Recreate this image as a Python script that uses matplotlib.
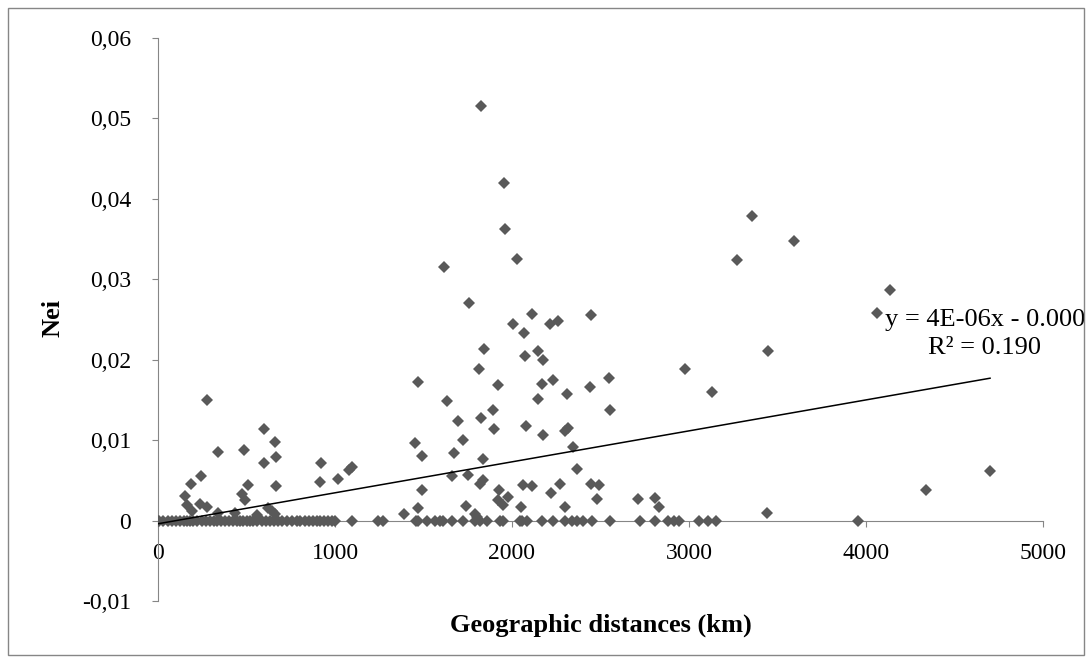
import numpy as np
import matplotlib
matplotlib.use('Agg')
from matplotlib import pyplot as plt
from matplotlib.patches import Rectangle

plt.rcParams['font.family'] = ['Liberation Serif', 'DejaVu Serif']

# points above zero (km, Nei)
dist_pos = [274, 601, 661, 667, 341, 486, 601, 919, 1098, 1079, 241, 188, 510, 667, 915, 1015,
            153, 473, 492, 162, 190, 237, 275, 341, 435, 557, 623, 642, 661,
            1392, 1471, 1490, 1452, 1490, 1467, 1635, 1672,
            1923, 2171, 2230, 2441, 2550, 2149, 2309, 3131, 1894, 2552, 1697, 1823, 1898,
            2079, 2177, 2299, 2318, 1725, 1838, 2345, 2365, 1659, 1753, 1834, 1819, 2064,
            2111, 2271, 2446, 2491, 1928, 2221, 1923, 1979, 1951, 2483, 2712, 2808, 2832,
            1740, 2049, 2302, 1791, 1804,
            1823, 1955, 1960, 2026, 1618, 1759, 2115, 2008, 2068, 2215, 2262, 2446, 1844,
            1814, 2073, 2149, 2173,
            3354, 3595, 3269, 4136, 4064, 3448, 2977, 4701, 4337, 3439]
nei_pos = [0.0150, 0.0114, 0.0098, 0.0079, 0.0085, 0.0088, 0.0071, 0.0072, 0.0066, 0.0063, 0.0055,
           0.0045, 0.0044, 0.0043, 0.0048, 0.0052,
           0.0031, 0.0033, 0.0026, 0.0019, 0.0012, 0.0020, 0.0017, 0.0010, 0.0010, 0.0007, 0.0016,
           0.0012, 0.0008,
           0.0008, 0.0015, 0.0038, 0.0096, 0.0080, 0.0172, 0.0149, 0.0084,
           0.0168, 0.0170, 0.0175, 0.0166, 0.0177, 0.0151, 0.0157, 0.0160, 0.0138, 0.0137, 0.0124,
           0.0128, 0.0114,
           0.0118, 0.0106, 0.0111, 0.0115, 0.0100, 0.0077, 0.0091, 0.0064, 0.0056, 0.0057, 0.0050,
           0.0045, 0.0044,
           0.0043, 0.0045, 0.0046, 0.0044, 0.0038, 0.0034, 0.0026, 0.0029, 0.0019, 0.0027, 0.0027,
           0.0028, 0.0017,
           0.0018, 0.0017, 0.0017, 0.0008, 0.0004,
           0.0516, 0.0420, 0.0362, 0.0325, 0.0315, 0.0271, 0.0257, 0.0244, 0.0233, 0.0245, 0.0248,
           0.0255, 0.0213,
           0.0189, 0.0204, 0.0211, 0.0200,
           0.0379, 0.0347, 0.0324, 0.0287, 0.0258, 0.0211, 0.0188, 0.0062, 0.0038, 0.0009]

# points sitting on zero
dist_zero = [0, 7, 30, 55, 77, 100, 124, 145, 162, 180, 200, 220, 247, 270, 294, 315, 331, 355,
             379, 400, 426, 445, 463, 480, 501, 520, 539, 560, 586, 610, 633, 655, 680, 700, 727,
             755, 783, 805, 831, 855, 878, 900, 915, 940, 962, 985, 1000,
             1094, 1245, 1273, 1456, 1471, 1518, 1565, 1593, 1612, 1659, 1721, 1791, 1819, 1857,
             1932, 1952, 2045, 2055, 2087, 2168, 2234, 2299, 2337, 2365, 2403, 2450, 2554, 2723,
             2808, 2883, 2915, 2945, 3058, 3109, 3153, 3955]

# linear trendline as drawn in the original (label rounds these)
trend_slope = 3.85e-6
trend_intercept = -0.0004
eq_text = 'y = 4E-06x - 0.000'
r2_text = 'R² = 0.190'

x = np.array(dist_pos + dist_zero, dtype=float)
y = np.array(nei_pos + [0.0] * len(dist_zero))

fig = plt.figure(figsize=(10.92, 6.67), dpi=100)
ax = fig.add_axes([0.1447, 0.099, 0.8104, 0.844])

grey = '#868686'
ax.plot(x, y, linestyle='none', marker='D', markersize=6.4, color='#595959',
        markeredgewidth=0, zorder=3)

xs = np.array([x.min(), x.max()])
ax.plot(xs, trend_slope * xs + trend_intercept, color='black', lw=1.1, zorder=4)

ax.text(985 / 1092, 1 - 320 / 667, eq_text, transform=fig.transFigure, fontsize=19,
        ha='center', va='center', zorder=5)
ax.text(985 / 1092, 1 - 348 / 667, r2_text, transform=fig.transFigure, fontsize=19,
        ha='center', va='center', zorder=5)

ax.set_xlim(0, 5000)
ax.set_ylim(-0.01, 0.06)
ax.set_xticks(np.arange(0, 5001, 1000))
ax.set_yticks(np.arange(-0.01, 0.0601, 0.01))
ax.set_yticklabels(['-0,01', '0', '0,01', '0,02', '0,03', '0,04', '0,05', '0,06'])

for s in ['top', 'right']:
    ax.spines[s].set_visible(False)
ax.spines['bottom'].set_position(('data', 0))
ax.spines['bottom'].set_color(grey)
ax.spines['left'].set_color(grey)
ax.tick_params(axis='both', colors=grey, labelcolor='black', labelsize=17, length=4.5)
ax.tick_params(axis='x', pad=12)
ax.tick_params(axis='y', pad=15)

fig.text(0.55, 1 - 625 / 667, 'Geographic distances (km)', ha='center', va='center',
         fontsize=19, fontweight='bold')
fig.text(53.5 / 1092, 1 - 317.5 / 667, 'Nei', ha='center', va='center', rotation=90,
         fontsize=19, fontweight='bold')

fig.patches.append(Rectangle((0.007, 0.018), 0.986, 0.97, transform=fig.transFigure,
                             fill=False, edgecolor=grey, lw=1))

fig.savefig('out.png', dpi=100)
